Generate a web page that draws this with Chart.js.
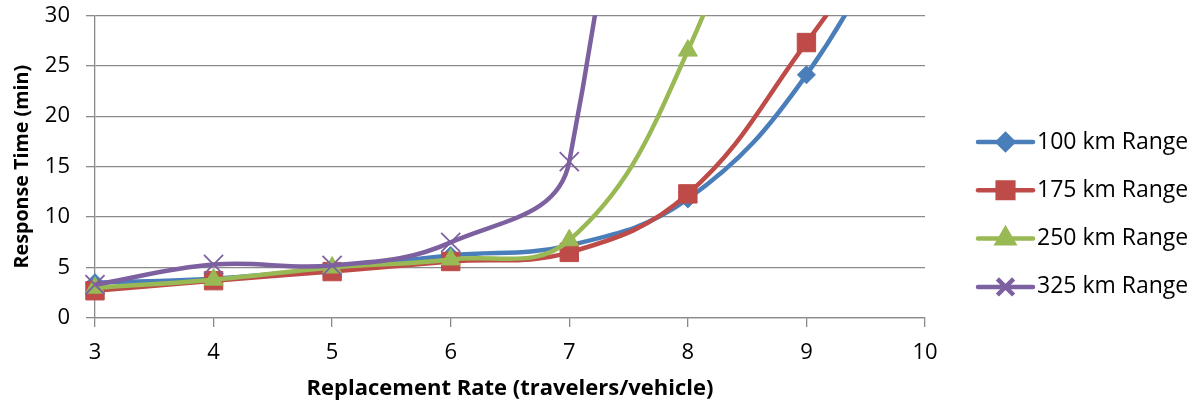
<!DOCTYPE html>
<html>
<head>
<meta charset="utf-8">
<script src="https://cdn.jsdelivr.net/npm/chart.js@4/dist/chart.umd.min.js"></script>
<style>
  html, body { margin: 0; padding: 0; background: #ffffff; }
  canvas { display: block; }
</style>
</head>
<body>
<canvas id="chart" width="1196" height="409"></canvas>
<script>
// Replacement rate (travelers per vehicle) on the x axis
const replacementRates = [3, 4, 5, 6, 7, 8, 9, 10];

// Mean response time (min) for each vehicle range; the last points run above the axis
const range100 = [3.5, 3.9, 4.9, 6.2, 7.2, 11.8, 24.1, 45];
const range175 = [2.7, 3.7, 4.6, 5.6, 6.5, 12.3, 27.3, 44];
const range250 = [3.0, 3.8, 5.0, 5.8, 7.7, 26.5, 60];
const range325 = [3.3, 5.3, 5.2, 7.5, 15.5, 130];

const seriesNames = ['100 km Range', '175 km Range', '250 km Range', '325 km Range'];
const seriesValues = [range100, range175, range250, range325];
const seriesColors = ['#4A7EBB', '#BE4B48', '#98B954', '#7D60A0'];
const seriesMarkers = ['rectRot', 'rect', 'triangle', 'crossRot'];
const markerRadius = [9, 13, 11, 13.5];

const yTicks = [0, 5, 10, 15, 20, 25, 30];
const xTicks = [3, 4, 5, 6, 7, 8, 9, 10];

const FONT = '"Open Sans", "Liberation Sans", sans-serif';
const GRID = '#8a8a8a';

const datasets = seriesNames.map((name, i) => ({
  label: name,
  data: seriesValues[i].map((v, j) => ({ x: replacementRates[j], y: v })),
  borderColor: seriesColors[i],
  backgroundColor: seriesColors[i],
  borderWidth: 4.5,
  tension: 0.4,
  pointStyle: seriesMarkers[i],
  pointRadius: markerRadius[i],
  pointHoverRadius: markerRadius[i],
  pointBackgroundColor: seriesColors[i],
  pointBorderColor: seriesColors[i],
  pointBorderWidth: seriesMarkers[i] === 'crossRot' ? 1.8 : 1,
  clip: { left: false, top: 0, right: 0, bottom: false },
  order: seriesNames.length - i
}));

// Legend drawn as line + marker samples to the right of the plot
const sideLegend = {
  id: 'sideLegend',
  afterDraw(chart) {
    const { ctx, chartArea } = chart;
    const x0 = chartArea.right + 53;
    const lineLen = 55;
    const rowGap = 48.3;
    const firstRow = 142;
    ctx.save();
    seriesNames.forEach((name, i) => {
      const y = firstRow + i * rowGap;
      ctx.strokeStyle = seriesColors[i];
      ctx.lineWidth = 4.5;
      ctx.lineCap = 'round';
      ctx.beginPath();
      ctx.moveTo(x0, y);
      ctx.lineTo(x0 + lineLen, y);
      ctx.stroke();
      ctx.fillStyle = seriesColors[i];
      ctx.lineCap = 'butt';
      Chart.helpers.drawPoint(ctx, {
        pointStyle: seriesMarkers[i],
        radius: markerRadius[i] * 0.85,
        borderWidth: seriesMarkers[i] === 'crossRot' ? 1.8 : 1,
        rotation: 0
      }, x0 + lineLen / 2, y);
      ctx.fillStyle = '#000000';
      ctx.font = '23px ' + FONT;
      ctx.textAlign = 'left';
      ctx.textBaseline = 'middle';
      ctx.fillText(name, x0 + lineLen + 4, y);
    });
    ctx.restore();
  }
};

new Chart(document.getElementById('chart'), {
  type: 'line',
  data: { datasets },
  options: {
    responsive: false,
    animation: false,
    events: [],
    layout: { padding: { left: 0, top: 7, right: 271, bottom: 0 } },
    plugins: {
      legend: { display: false },
      tooltip: { enabled: false }
    },
    scales: {
      x: {
        type: 'linear',
        min: 3,
        max: 10,
        afterBuildTicks(scale) { scale.ticks = xTicks.map(v => ({ value: v })); },
        afterFit(scale) { scale.height = 91; },
        ticks: { color: '#000', font: { family: FONT, size: 22 }, padding: 13 },
        grid: { drawOnChartArea: false, drawTicks: true, tickLength: 9, color: GRID, lineWidth: 1.3 },
        border: { color: GRID, width: 1.3 },
        title: {
          display: true,
          text: 'Replacement Rate (travelers/vehicle)',
          color: '#000',
          font: { family: FONT, size: 22, weight: 'bold' },
          padding: { top: 0, bottom: 7 }
        }
      },
      y: {
        min: 0,
        max: 30,
        afterBuildTicks(scale) { scale.ticks = yTicks.map(v => ({ value: v })); },
        afterFit(scale) { scale.width = 95; scale.paddingTop = 0; },
        ticks: { color: '#000', font: { family: FONT, size: 22 }, padding: 16 },
        grid: { drawTicks: true, tickLength: 9, color: GRID, lineWidth: 1.3 },
        border: { color: GRID, width: 1.3 },
        title: {
          display: true,
          text: 'Response Time (min)',
          color: '#000',
          font: { family: FONT, size: 19.7, weight: 'bold' },
          padding: { top: 10.7, bottom: 8 }
        }
      }
    }
  },
  plugins: [sideLegend]
});
</script>
</body>
</html>
